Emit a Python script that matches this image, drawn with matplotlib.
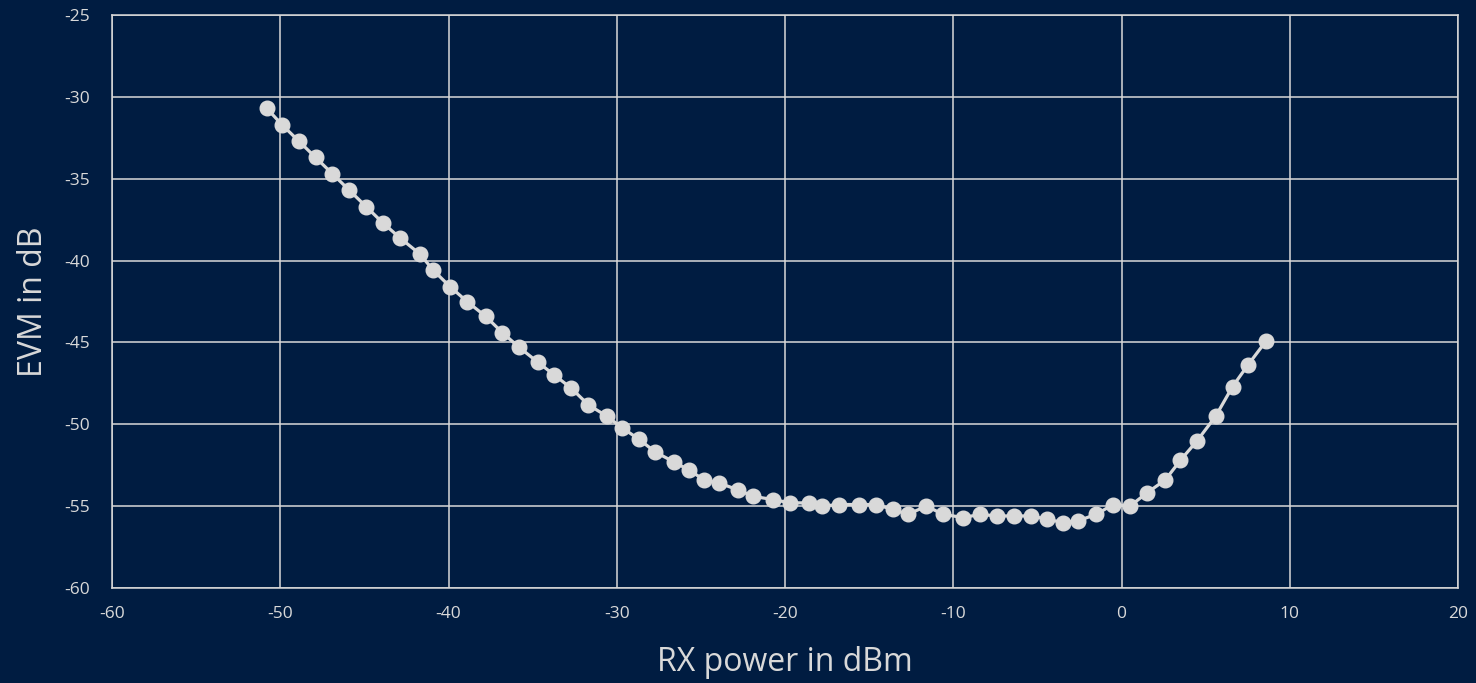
import matplotlib

matplotlib.use("Agg")

import matplotlib.pyplot as plt


BG = "#001C41"
FG = "#D9D9D9"

rx_power = [
    -50.8, -49.9, -48.9, -47.9, -46.9, -45.9, -44.9, -43.9, -42.9, -41.7,
    -40.9, -39.9, -38.9, -37.8, -36.8, -35.8, -34.7, -33.7, -32.7, -31.7,
    -30.6, -29.7, -28.7, -27.7, -26.6, -25.7, -24.8, -23.9, -22.8, -21.9,
    -20.7, -19.7, -18.6, -17.8, -16.8, -15.6, -14.6, -13.6, -12.7, -11.6,
    -10.6, -9.4, -8.4, -7.4, -6.4, -5.4, -4.4, -3.5, -2.6, -1.5,
    -0.5, 0.5, 1.5, 2.6, 3.5, 4.5, 5.6, 6.6, 7.5, 8.6,
]
evm = [
    -30.7, -31.7, -32.7, -33.7, -34.7, -35.7, -36.7, -37.7, -38.6, -39.6,
    -40.6, -41.6, -42.5, -43.4, -44.4, -45.3, -46.2, -47.0, -47.8, -48.8,
    -49.5, -50.2, -50.9, -51.7, -52.3, -52.8, -53.4, -53.6, -54.0, -54.4,
    -54.6, -54.8, -54.8, -55.0, -54.9, -54.9, -54.9, -55.2, -55.5, -55.0,
    -55.5, -55.7, -55.5, -55.6, -55.6, -55.6, -55.8, -56.0, -55.9, -55.5,
    -54.9, -55.0, -54.2, -53.4, -52.2, -51.0, -49.5, -47.7, -46.4, -44.9,
]

x_ticks = [-60, -50, -40, -30, -20, -10, 0, 10, 20]
y_ticks = [-60, -55, -50, -45, -40, -35, -30, -25]


def main() -> None:
    plt.rcParams["font.family"] = ["Open Sans", "DejaVu Sans"]
    plt.rcParams["axes.unicode_minus"] = False

    fig = plt.figure(figsize=(14.76, 6.83), dpi=100, facecolor=BG)
    ax = fig.add_axes([112 / 1476, 1 - 588 / 683, (1458 - 112) / 1476, (588 - 15) / 683])
    ax.set_facecolor(BG)

    ax.plot(
        rx_power,
        evm,
        color=FG,
        linewidth=2.3,
        marker="o",
        markersize=10.5,
        markerfacecolor=FG,
        markeredgecolor=FG,
        zorder=3,
        clip_on=False,
    )

    ax.set_xlim(-60, 20)
    ax.set_ylim(-60, -25)
    ax.set_xticks(x_ticks)
    ax.set_yticks(y_ticks)
    ax.grid(True, color=FG, linewidth=1.1, zorder=1)
    ax.set_axisbelow(True)
    for spine in ax.spines.values():
        spine.set_color(FG)
        spine.set_linewidth(1.1)

    ax.tick_params(axis="both", length=0, colors=FG, labelsize=12.5)
    ax.tick_params(axis="x", pad=13)
    ax.tick_params(axis="y", pad=16)

    ax.set_xlabel("RX power in dBm", color=FG, fontsize=23, labelpad=17)
    ax.set_ylabel("EVM in dB", color=FG, fontsize=23, labelpad=10)

    fig.savefig("out.png", dpi=100, facecolor=BG)
    plt.close(fig)


if __name__ == "__main__":
    main()
